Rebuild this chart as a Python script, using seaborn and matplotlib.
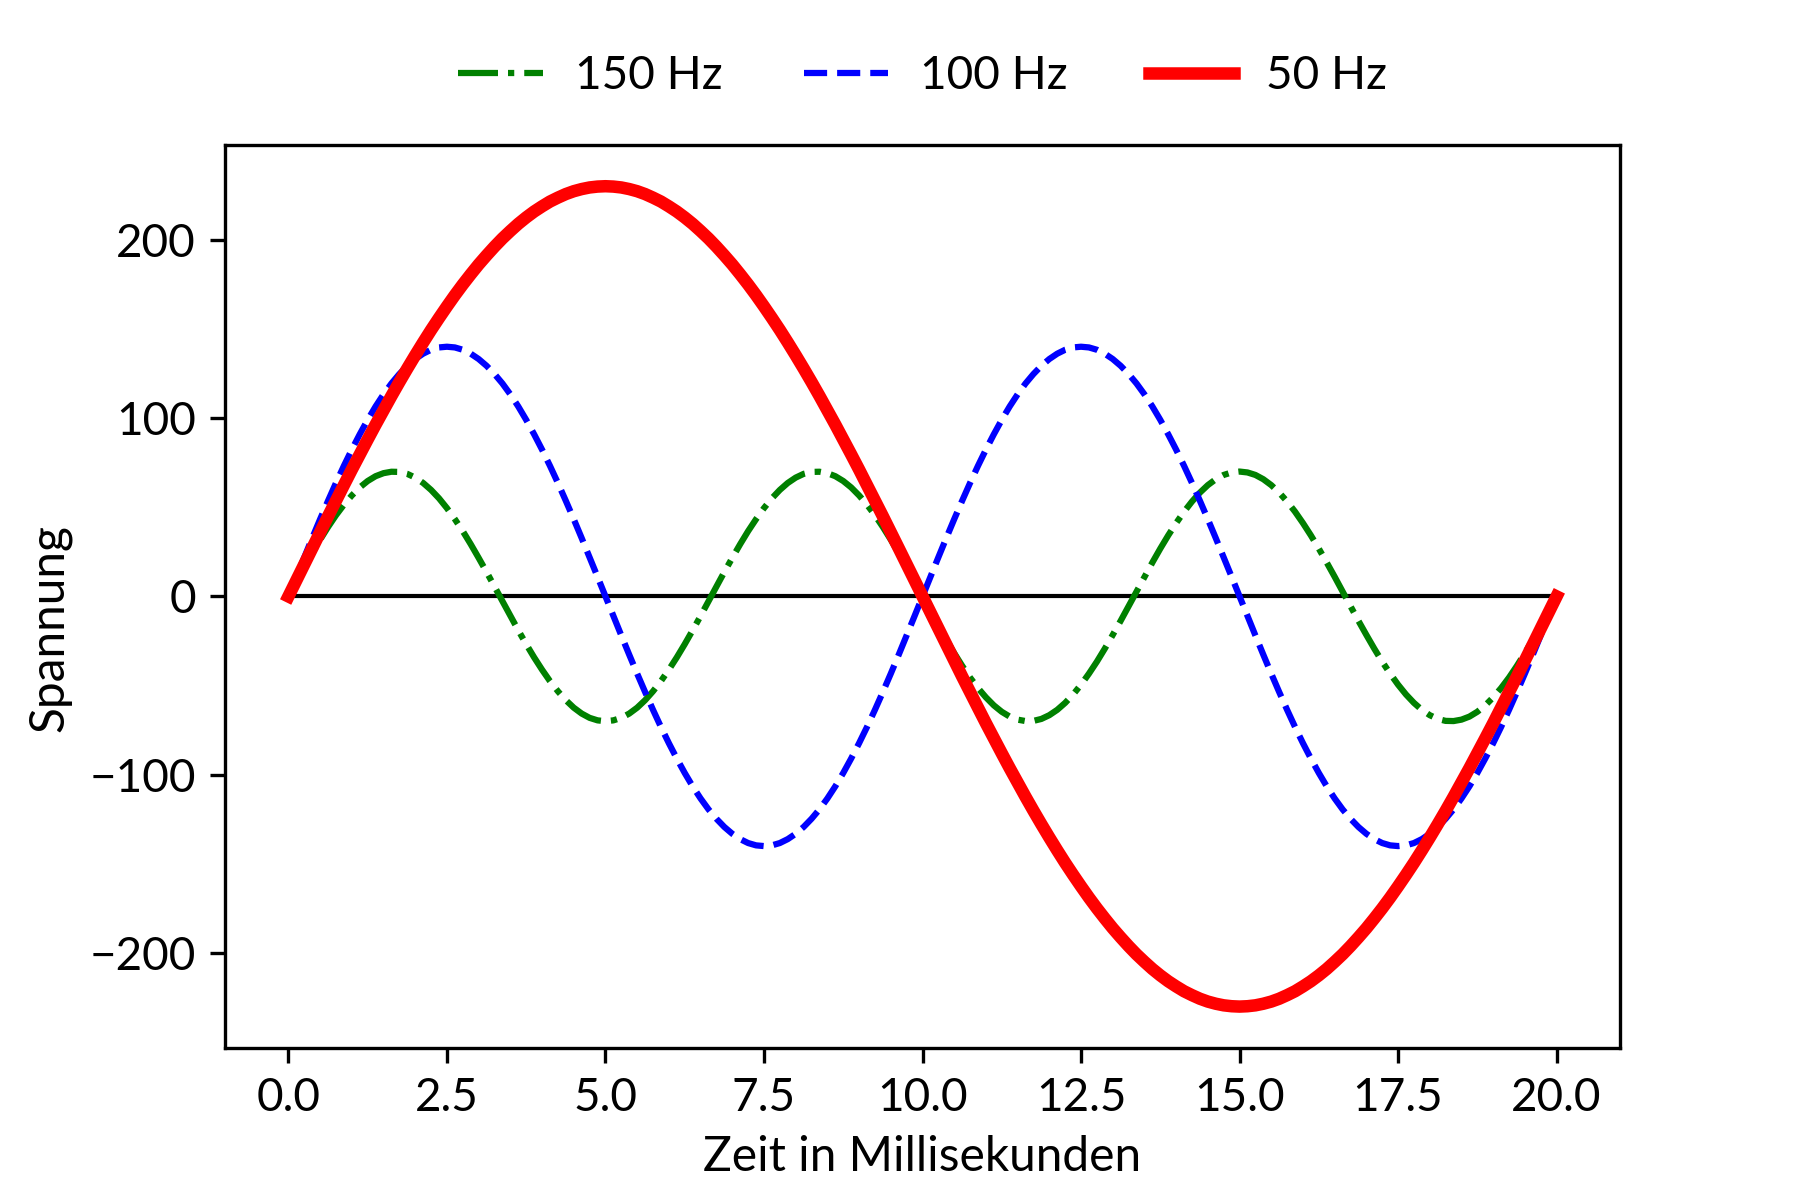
import numpy as np
import seaborn as sns
import matplotlib.pyplot as plt

# sample grid in milliseconds (0 .. 20 ms, step 0.125)
time_ms = np.linspace(0, 20, 161)

volt_150 = [0, 8.2, 16.3, 24.2, 31.8, 38.9, 45.5, 51.4, 56.6, 61.1, 64.7, 67.4, 69.1, 69.9, 69.8, 68.7, 66.6, 63.6, 59.7, 55.0,
            49.5, 43.3, 36.6, 29.3, 21.6, 13.7, 5.5, -2.7, -11.0, -19.0, -26.8, -34.2, -41.1, -47.5, -53.2, -58.2, -62.4, -65.7, -68.1, -69.5,
            -70.0, -69.5, -68.1, -65.7, -62.4, -58.2, -53.2, -47.5, -41.1, -34.2, -26.8, -19.0, -11.0, -2.7, 5.5, 13.7, 21.6, 29.3, 36.6, 43.3,
            49.5, 55.0, 59.7, 63.6, 66.6, 68.7, 69.8, 69.9, 69.1, 67.4, 64.7, 61.1, 56.6, 51.4, 45.5, 38.9, 31.8, 24.2, 16.3, 8.2,
            0, -8.2, -16.3, -24.2, -31.8, -38.9, -45.5, -51.4, -56.6, -61.1, -64.7, -67.4, -69.1, -69.9, -69.8, -68.7, -66.6, -63.6, -59.7, -55.0,
            -49.5, -43.3, -36.6, -29.3, -21.6, -13.7, -5.5, 2.7, 11.0, 19.0, 26.8, 34.2, 41.1, 47.5, 53.2, 58.2, 62.4, 65.7, 68.1, 69.5,
            70.0, 69.5, 68.1, 65.7, 62.4, 58.2, 53.2, 47.5, 41.1, 34.2, 26.8, 19.0, 11.0, 2.7, -5.5, -13.7, -21.6, -29.3, -36.6, -43.3,
            -49.5, -55.0, -59.7, -63.6, -66.6, -68.7, -69.8, -69.9, -69.1, -67.4, -64.7, -61.1, -56.6, -51.4, -45.5, -38.9, -31.8, -24.2, -16.3, -8.2,
            0]
volt_100 = [0, 11.0, 21.9, 32.7, 43.3, 53.6, 63.6, 73.2, 82.3, 90.9, 99.0, 106.5, 113.3, 119.4, 124.7, 129.3, 133.1, 136.1, 138.3, 139.6,
            140.0, 139.6, 138.3, 136.1, 133.1, 129.3, 124.7, 119.4, 113.3, 106.5, 99.0, 90.9, 82.3, 73.2, 63.6, 53.6, 43.3, 32.7, 21.9, 11.0,
            0, -11.0, -21.9, -32.7, -43.3, -53.6, -63.6, -73.2, -82.3, -90.9, -99.0, -106.5, -113.3, -119.4, -124.7, -129.3, -133.1, -136.1, -138.3, -139.6,
            -140.0, -139.6, -138.3, -136.1, -133.1, -129.3, -124.7, -119.4, -113.3, -106.5, -99.0, -90.9, -82.3, -73.2, -63.6, -53.6, -43.3, -32.7, -21.9, -11.0,
            0, 11.0, 21.9, 32.7, 43.3, 53.6, 63.6, 73.2, 82.3, 90.9, 99.0, 106.5, 113.3, 119.4, 124.7, 129.3, 133.1, 136.1, 138.3, 139.6,
            140.0, 139.6, 138.3, 136.1, 133.1, 129.3, 124.7, 119.4, 113.3, 106.5, 99.0, 90.9, 82.3, 73.2, 63.6, 53.6, 43.3, 32.7, 21.9, 11.0,
            0, -11.0, -21.9, -32.7, -43.3, -53.6, -63.6, -73.2, -82.3, -90.9, -99.0, -106.5, -113.3, -119.4, -124.7, -129.3, -133.1, -136.1, -138.3, -139.6,
            -140.0, -139.6, -138.3, -136.1, -133.1, -129.3, -124.7, -119.4, -113.3, -106.5, -99.0, -90.9, -82.3, -73.2, -63.6, -53.6, -43.3, -32.7, -21.9, -11.0,
            0]
volt_50 = [0, 9.0, 18.0, 27.0, 36.0, 44.9, 53.7, 62.4, 71.1, 79.6, 88.0, 96.3, 104.4, 112.4, 120.2, 127.8, 135.2, 142.4, 149.4, 156.1,
           162.6, 168.9, 174.9, 180.6, 186.1, 191.2, 196.1, 200.7, 204.9, 208.9, 212.5, 215.8, 218.7, 221.4, 223.6, 225.6, 227.2, 228.4, 229.3, 229.8,
           230.0, 229.8, 229.3, 228.4, 227.2, 225.6, 223.6, 221.4, 218.7, 215.8, 212.5, 208.9, 204.9, 200.7, 196.1, 191.2, 186.1, 180.6, 174.9, 168.9,
           162.6, 156.1, 149.4, 142.4, 135.2, 127.8, 120.2, 112.4, 104.4, 96.3, 88.0, 79.6, 71.1, 62.4, 53.7, 44.9, 36.0, 27.0, 18.0, 9.0,
           0, -9.0, -18.0, -27.0, -36.0, -44.9, -53.7, -62.4, -71.1, -79.6, -88.0, -96.3, -104.4, -112.4, -120.2, -127.8, -135.2, -142.4, -149.4, -156.1,
           -162.6, -168.9, -174.9, -180.6, -186.1, -191.2, -196.1, -200.7, -204.9, -208.9, -212.5, -215.8, -218.7, -221.4, -223.6, -225.6, -227.2, -228.4, -229.3, -229.8,
           -230.0, -229.8, -229.3, -228.4, -227.2, -225.6, -223.6, -221.4, -218.7, -215.8, -212.5, -208.9, -204.9, -200.7, -196.1, -191.2, -186.1, -180.6, -174.9, -168.9,
           -162.6, -156.1, -149.4, -142.4, -135.2, -127.8, -120.2, -112.4, -104.4, -96.3, -88.0, -79.6, -71.1, -62.4, -53.7, -44.9, -36.0, -27.0, -18.0, -9.0,
           0]

labels = ['150 Hz', '100 Hz', '50 Hz']

sns.set_style('ticks', {'axes.edgecolor': 'black', 'xtick.color': 'black', 'ytick.color': 'black',
                        'text.color': 'black', 'axes.labelcolor': 'black'})
plt.rcParams['font.family'] = ['Lato', 'DejaVu Sans']
plt.rcParams['font.size'] = 10
plt.rcParams['axes.linewidth'] = 0.8

fig, ax = plt.subplots(figsize=(6, 4), dpi=300)
fig.subplots_adjust(left=0.125, right=0.9, top=0.879, bottom=0.127)

# zero line
ax.hlines(0, time_ms[0], time_ms[-1], color='black', linewidth=1)

sns.lineplot(x=time_ms, y=volt_150, ax=ax, color='green', linestyle='-.', linewidth=1.5, label=labels[0])
sns.lineplot(x=time_ms, y=volt_100, ax=ax, color='blue', linestyle='--', linewidth=1.5, label=labels[1])
sns.lineplot(x=time_ms, y=volt_50, ax=ax, color='red', linestyle='-', linewidth=3,
             solid_capstyle='projecting', solid_joinstyle='round', label=labels[2])

ax.set_xlabel('Zeit in Millisekunden', fontsize=11.5)
ax.set_ylabel('Spannung', fontsize=11.5)
ax.yaxis.set_label_coords(-0.11, 0.465)
ax.tick_params(labelsize=11, width=0.8, length=3.5)

ax.legend(loc='center', bbox_to_anchor=(0.5, 1.077), ncol=3, frameon=False,
          fontsize=11, handlelength=1.85, handletextpad=0.7, columnspacing=1.77)

fig.savefig('out.png', dpi=300)
